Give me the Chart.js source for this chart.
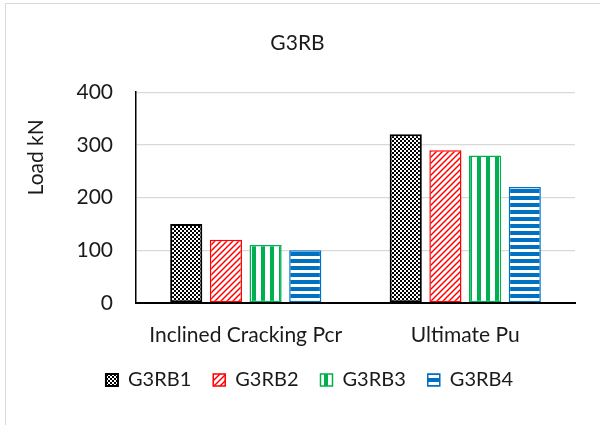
<!DOCTYPE html>
<html>
<head>
<meta charset="utf-8">
<script src="https://cdn.jsdelivr.net/npm/chart.js@4/dist/chart.umd.min.js"></script>
<style>
  html, body { margin: 0; padding: 0; background: #fff; }
  #wrap { position: relative; width: 600px; height: 425px; overflow: hidden; }
  #frame { position: absolute; left: 5px; top: 3px; width: 700px; height: 500px;
           border-left: 1.5px solid #d9d9d9; border-top: 1.5px solid #d9d9d9; }
  canvas { position: absolute; left: 0; top: 0; }
</style>
</head>
<body>
<div id="wrap">
  <div id="frame"></div>
  <canvas id="chart" width="600" height="425"></canvas>
</div>
<script>
// data
const categories = ['Inclined Cracking Pcr', 'Ultimate Pu'];
const seriesNames = ['G3RB1', 'G3RB2', 'G3RB3', 'G3RB4'];
const g3rb1 = [150, 320];
const g3rb2 = [120, 290];
const g3rb3 = [110, 280];
const g3rb4 = [100, 220];
const yTicks = [0, 100, 200, 300, 400];

const FONT = "Lato, 'Open Sans', sans-serif";
const TXT = '#1a1a1a';

// Pattern helpers (Excel style fills)
function makePattern(w, h, draw) {
    const c = document.createElement('canvas');
    c.width = w; c.height = h;
    const g = c.getContext('2d');
    g.fillStyle = '#fff';
    g.fillRect(0, 0, w, h);
    draw(g);
    return document.createElement('canvas').getContext('2d').createPattern(c, 'repeat');
}

const checker = makePattern(4, 4, g => {
    g.fillStyle = '#000';
    g.fillRect(0, 0, 2, 2);
    g.fillRect(2, 2, 2, 2);
});
const diag = makePattern(6, 6, g => {
    g.strokeStyle = '#ff0000';
    g.lineWidth = 1.5;
    g.beginPath();
    g.moveTo(-1, 7); g.lineTo(7, -1);
    g.moveTo(-1, 1); g.lineTo(1, -1);
    g.moveTo(5, 7); g.lineTo(7, 5);
    g.stroke();
});
const vert = makePattern(9, 4, g => {
    g.fillStyle = '#00b050';
    g.fillRect(0, 0, 4, 4);
});
const horiz = makePattern(4, 7, g => {
    g.fillStyle = '#0070c0';
    g.fillRect(0, 0, 4, 4);
});

// move legend a little to the right like the original
const legendShift = {
    id: 'legendShift',
    afterLayout(chart) {
        if (chart.legend) {
            chart.legend.left += 12;
            chart.legend.right += 12;
        }
    }
};

new Chart(document.getElementById('chart'), {
    type: 'bar',
    data: {
        labels: categories,
        datasets: [
            { label: seriesNames[0], data: g3rb1, backgroundColor: checker, borderColor: '#000000', borderWidth: 2 },
            { label: seriesNames[1], data: g3rb2, backgroundColor: diag, borderColor: '#ff0000', borderWidth: 1.5 },
            { label: seriesNames[2], data: g3rb3, backgroundColor: vert, borderColor: '#00b050', borderWidth: 1.5 },
            { label: seriesNames[3], data: g3rb4, backgroundColor: horiz, borderColor: '#0070c0', borderWidth: 1.5 }
        ]
    },
    options: {
        responsive: false,
        animation: false,
        datasets: {
            bar: { categoryPercentage: 0.723, barPercentage: 0.81, borderSkipped: false }
        },
        layout: { padding: { left: 20, right: 25, top: 0, bottom: 25 } },
        plugins: {
            tooltip: { enabled: false },
            title: {
                display: true,
                text: 'G3RB',
                color: TXT,
                font: { family: FONT, size: 21, weight: 'normal' },
                padding: { top: 31, bottom: 36 }
            },
            legend: {
                position: 'bottom',
                labels: {
                    color: TXT,
                    font: { family: FONT, size: 20 },
                    boxWidth: 12,
                    boxHeight: 12,
                    padding: 22
                }
            }
        },
        scales: {
            x: {
                grid: { display: false, drawTicks: false },
                border: { display: true, color: '#000', width: 2 },
                ticks: { color: TXT, font: { family: FONT, size: 21 }, padding: 20 },
                afterFit(scale) { scale.height = 45; }
            },
            y: {
                min: 0,
                max: 400,
                afterBuildTicks(scale) { scale.ticks = yTicks.map(v => ({ value: v })); },
                grid: { color: '#d9d9d9', lineWidth: 1.3, drawTicks: false },
                border: { display: true, color: '#000', width: 1.5 },
                ticks: { color: TXT, font: { family: FONT, size: 21 }, padding: 23 },
                title: {
                    display: true,
                    // leading spaces push the label up, as in the original
                    text: ' '.repeat(15) + 'Load kN',
                    color: TXT,
                    font: { family: FONT, size: 21 },
                    padding: { top: 4, bottom: 0 }
                },
                afterFit(scale) { scale.width = 116; }
            }
        }
    },
    plugins: [legendShift]
});
</script>
</body>
</html>
